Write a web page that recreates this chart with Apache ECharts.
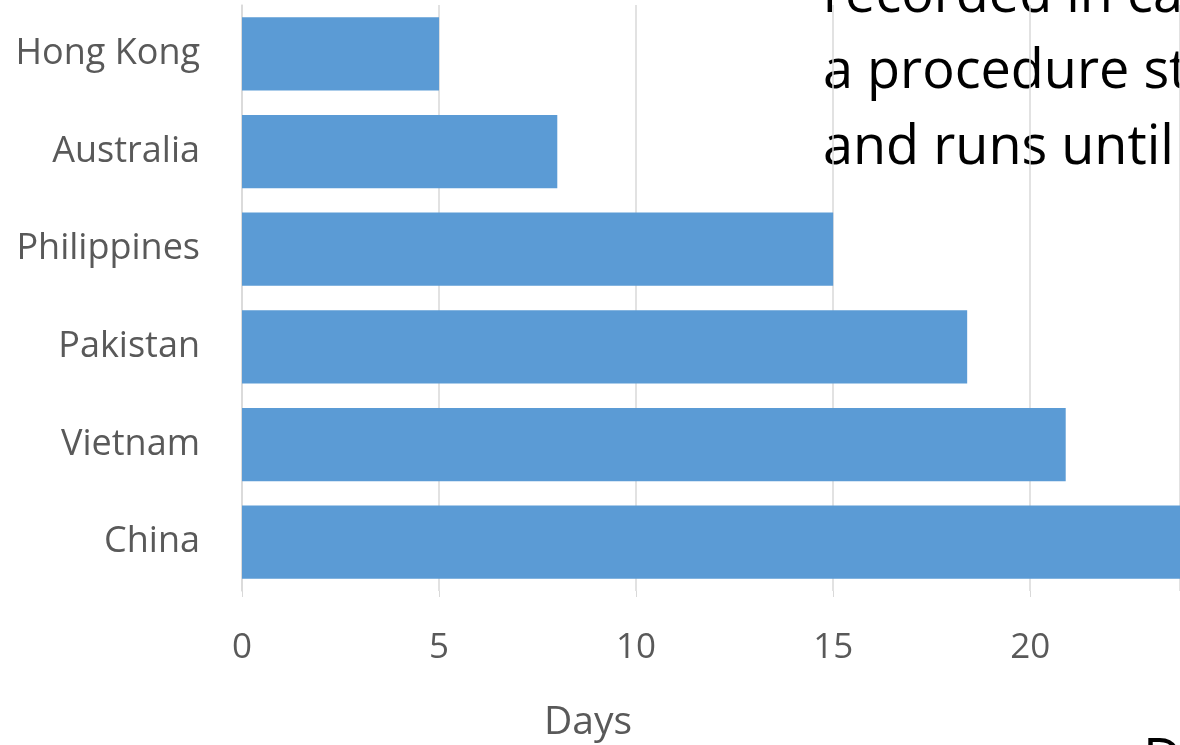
<!DOCTYPE html>
<html>
<head>
<meta charset="utf-8">
<script src="https://cdn.jsdelivr.net/npm/echarts@6/dist/echarts.min.js"></script>
<style>
  html, body { margin: 0; padding: 0; background: #fff; }
  #chart { width: 1180px; height: 745px; }
</style>
</head>
<body>
<div id="chart"></div>
<script>
// days per country, top to bottom
var countries = ['Hong Kong', 'Australia', 'Philippines', 'Pakistan', 'Vietnam', 'China'];
var days = [5, 8, 15, 18.4, 20.9, 25];
// the picture is cropped at about 23.8 days on the right
var dayRange = [0, 23.8];
var slideLines = ['recorded in ca', 'a procedure st', 'and runs until'];

(function(){
    var chart = echarts.init(document.getElementById('chart'));
    var font = '"Open Sans", "Noto Sans", sans-serif';

    var option = {
        animation: false,
        grid: {
            left: 242,
            right: 0,
            top: 5,
            bottom: 154
        },
        xAxis: {
            type: 'value',
            min: dayRange[0],
            max: dayRange[1],
            interval: 5,
            axisLine: { show: false },
            axisTick: { show: true, length: 6, lineStyle: { color: '#d9d9d9' } },
            splitLine: { show: true, lineStyle: { color: '#d9d9d9', width: 1.5 } },
            axisLabel: {
                color: '#595959',
                fontFamily: font,
                fontSize: 35,
                margin: 40,
                showMaxLabel: false
            }
        },
        yAxis: {
            type: 'category',
            inverse: true,
            data: countries,
            axisLine: { show: true, lineStyle: { color: '#d9d9d9', width: 1.5 } },
            axisTick: { show: false },
            axisLabel: {
                color: '#595959',
                fontFamily: font,
                fontSize: 36,
                margin: 42
            }
        },
        series: [
            {
                name: 'Days',
                type: 'bar',
                data: days,
                barCategoryGap: '25%',
                itemStyle: { color: '#5b9bd5' }
            }
        ],
        graphic: [
            {
                type: 'text', left: 544, top: 703,
                style: { text: 'Days', fill: '#595959', font: '39px ' + font }
            },
            {
                type: 'text', x: 823, y: -3,
                style: { text: slideLines[0], fill: '#000', font: '54px ' + font, textVerticalAlign: 'middle' }
            },
            {
                type: 'text', x: 823, y: 73,
                style: { text: slideLines[1], fill: '#000', font: '54px ' + font, textVerticalAlign: 'middle' }
            },
            {
                type: 'text', x: 823, y: 149,
                style: { text: slideLines[2], fill: '#000', font: '54px ' + font, textVerticalAlign: 'middle' }
            },
            {
                type: 'text', x: 1143, y: 762,
                style: { text: 'D', fill: '#000', font: '54px ' + font, textVerticalAlign: 'middle' }
            }
        ]
    };

    chart.setOption(option);
})();
</script>
</body>
</html>
